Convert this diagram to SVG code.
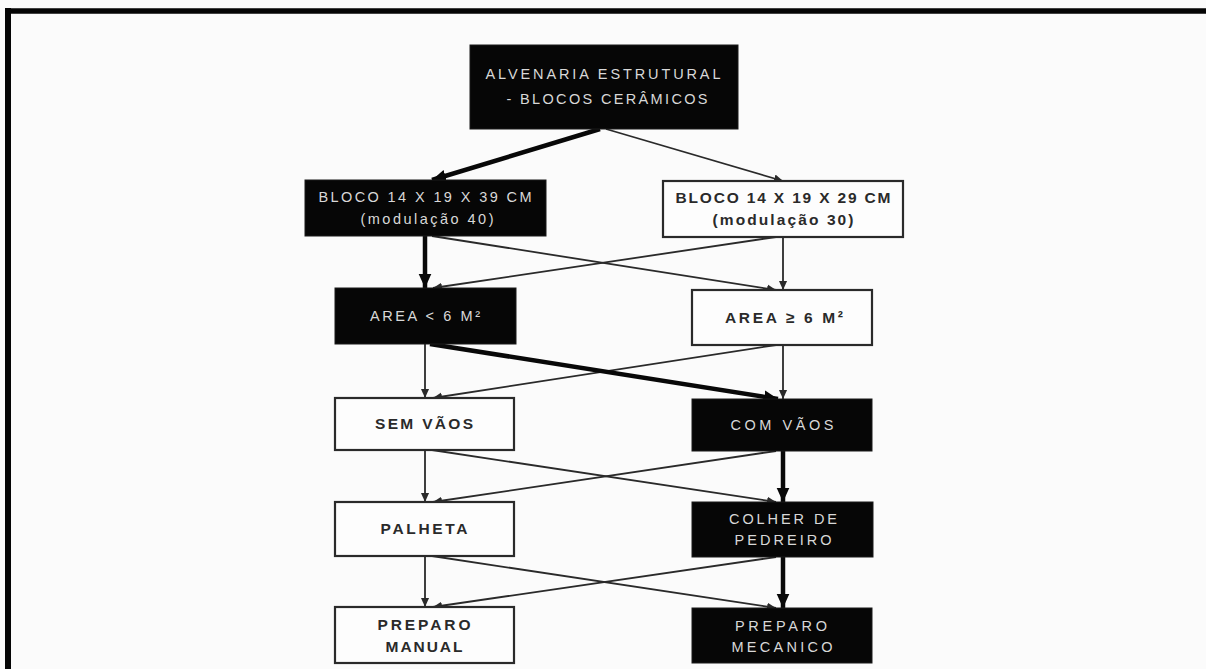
<svg xmlns="http://www.w3.org/2000/svg" width="1206" height="669" viewBox="0 0 1206 669">
<style>
.dk{fill:#060606;stroke:#1a1a1a;stroke-width:1}
.wh{fill:#fdfdfd;stroke:#2a2a2a;stroke-width:2.2}
.lt{font-family:"Liberation Sans",Arial,sans-serif;font-size:14.5px;fill:#d8d8d8;text-anchor:middle}
.bd{font-family:"Liberation Sans",Arial,sans-serif;font-size:15.5px;font-weight:bold;fill:#2a2a2a;text-anchor:middle}
.thin{stroke:#2a2a2a;stroke-width:1.8;fill:none;marker-end:url(#ah)}
.thick{stroke:#080808;stroke-width:4.5;fill:none;marker-end:url(#ahk)}
</style>
<defs>
<marker id="ah" viewBox="0 0 10 10" refX="10" refY="5" markerWidth="9" markerHeight="9" markerUnits="userSpaceOnUse" orient="auto"><path d="M0,0.5 L10,5 L0,9.5 z" fill="#2a2a2a"/></marker>
<marker id="ahk" viewBox="0 0 10 10" refX="10" refY="5" markerWidth="14" markerHeight="14" markerUnits="userSpaceOnUse" orient="auto"><path d="M0,0.5 L10,5 L0,9.5 z" fill="#080808"/></marker>
</defs>
<rect x="0" y="0" width="1206" height="669" fill="#fbfbfb"/>
<g id="frame">
<line x1="5" y1="11" x2="1206" y2="11" stroke="#050505" stroke-width="5.5"/>
<line x1="8" y1="8" x2="8" y2="669" stroke="#050505" stroke-width="6"/>
</g>
<g id="connectors">
<line class="thick" x1="600" y1="129" x2="432" y2="180"/>
<line class="thin" x1="606" y1="129" x2="783" y2="181"/>
<line class="thick" x1="425" y1="236" x2="425" y2="288"/>
<line class="thin" x1="432" y1="236" x2="776" y2="290"/>
<line class="thin" x1="776" y1="237" x2="433" y2="288"/>
<line class="thin" x1="783" y1="237" x2="783" y2="290"/>
<line class="thin" x1="425" y1="344" x2="425" y2="398"/>
<line class="thin" x1="776" y1="345" x2="433" y2="398"/>
<line class="thick" x1="430" y1="344" x2="778" y2="399"/>
<line class="thin" x1="783" y1="345" x2="783" y2="399"/>
<line class="thin" x1="425" y1="450" x2="425" y2="502"/>
<line class="thin" x1="432" y1="450" x2="776" y2="502"/>
<line class="thin" x1="776" y1="451" x2="433" y2="502"/>
<line class="thick" x1="783" y1="451" x2="783" y2="502"/>
<line class="thin" x1="425" y1="556" x2="425" y2="607"/>
<line class="thin" x1="432" y1="556" x2="776" y2="608"/>
<line class="thin" x1="776" y1="557" x2="433" y2="607"/>
<line class="thick" x1="783" y1="557" x2="783" y2="608"/>
</g>
<g id="n-top">
<rect class="dk" x="470" y="45" width="268" height="84"/>
<text class="lt" x="603" y="79" textLength="235" lengthAdjust="spacing">ALVENARIA ESTRUTURAL</text>
<text class="lt" x="607" y="104" textLength="201" lengthAdjust="spacing">- BLOCOS CERÂMICOS</text>
</g>
<g id="n-bloco40">
<rect class="dk" x="305" y="180" width="241" height="56"/>
<text class="lt" x="425" y="202" textLength="213" lengthAdjust="spacing">BLOCO 14 X 19 X 39 CM</text>
<text class="lt" x="427" y="224" textLength="133" lengthAdjust="spacing">(modulação 40)</text>
</g>
<g id="n-bloco30">
<rect class="wh" x="663" y="181" width="240" height="56"/>
<text class="bd" x="783" y="203" textLength="215" lengthAdjust="spacing">BLOCO 14 X 19 X 29 CM</text>
<text class="bd" x="783" y="225" textLength="141" lengthAdjust="spacing">(modulação 30)</text>
</g>
<g id="n-area-menor">
<rect class="dk" x="335" y="288" width="181" height="56"/>
<text class="lt" x="425" y="321" textLength="110" lengthAdjust="spacing">AREA &lt; 6 M²</text>
</g>
<g id="n-area-maior">
<rect class="wh" x="692" y="290" width="180" height="55"/>
<text class="bd" x="784" y="323" textLength="118" lengthAdjust="spacing">AREA ≥ 6 M²</text>
</g>
<g id="n-sem-vaos">
<rect class="wh" x="335" y="398" width="179" height="52"/>
<text class="bd" x="424" y="429" textLength="98" lengthAdjust="spacing">SEM VÃOS</text>
</g>
<g id="n-com-vaos">
<rect class="dk" x="692" y="399" width="180" height="52"/>
<text class="lt" x="782" y="430" textLength="103" lengthAdjust="spacing">COM VÃOS</text>
</g>
<g id="n-palheta">
<rect class="wh" x="335" y="502" width="179" height="54"/>
<text class="bd" x="424" y="534" textLength="87" lengthAdjust="spacing">PALHETA</text>
</g>
<g id="n-colher">
<rect class="dk" x="692" y="502" width="181" height="55"/>
<text class="lt" x="783" y="524" textLength="108" lengthAdjust="spacing">COLHER DE</text>
<text class="lt" x="783" y="545" textLength="97" lengthAdjust="spacing">PEDREIRO</text>
</g>
<g id="n-manual">
<rect class="wh" x="335" y="607" width="179" height="56"/>
<text class="bd" x="424" y="630" textLength="93" lengthAdjust="spacing">PREPARO</text>
<text class="bd" x="424" y="652" textLength="77" lengthAdjust="spacing">MANUAL</text>
</g>
<g id="n-mecanico">
<rect class="dk" x="692" y="608" width="180" height="55"/>
<text class="lt" x="781" y="631" textLength="92" lengthAdjust="spacing">PREPARO</text>
<text class="lt" x="782" y="652" textLength="101" lengthAdjust="spacing">MECANICO</text>
</g>
</svg>
